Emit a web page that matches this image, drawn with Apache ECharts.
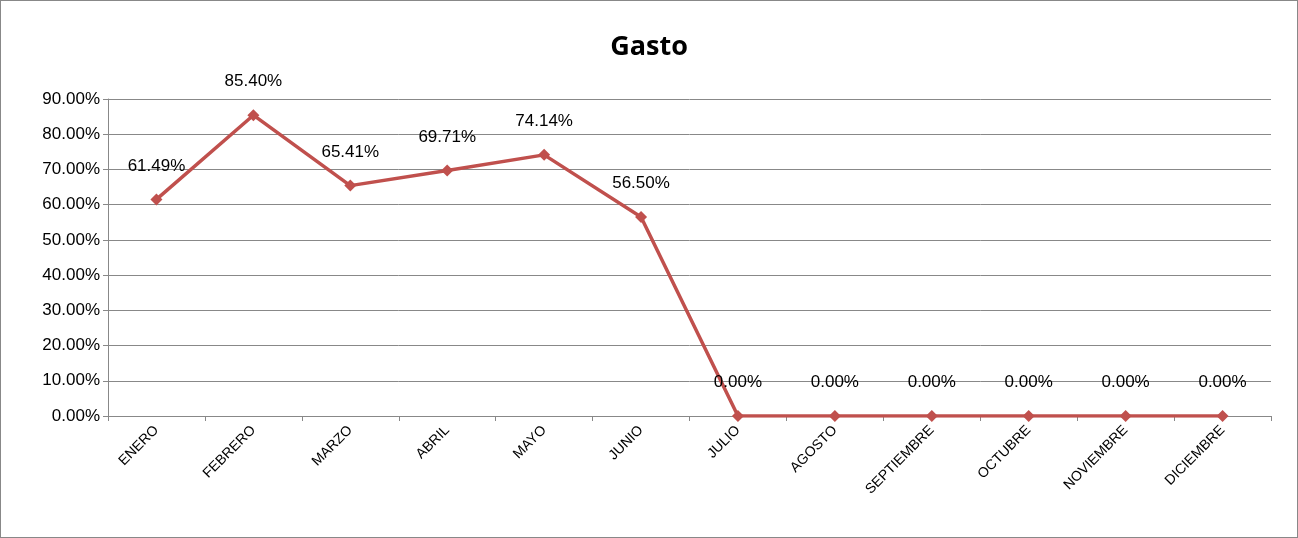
<!DOCTYPE html>
<html>
<head>
<meta charset="UTF-8">
<script src="https://cdn.jsdelivr.net/npm/echarts@6/dist/echarts.min.js"></script>
<style>
html,body{margin:0;padding:0;background:#fff;}
#main{width:1296px;height:536px;border:1px solid #888;}
</style>
</head>
<body>
<div id="main"></div>
<script>
var meses = ['ENERO','FEBRERO','MARZO','ABRIL','MAYO','JUNIO','JULIO','AGOSTO','SEPTIEMBRE','OCTUBRE','NOVIEMBRE','DICIEMBRE'];
var gasto = [61.49, 85.40, 65.41, 69.71, 74.14, 56.50, 0, 0, 0, 0, 0, 0];

var chart = echarts.init(document.getElementById('main'));
chart.setOption({
    title: {
        text: 'Gasto', left: 'center', top: 28,
        textStyle: {fontFamily: 'Open Sans', fontSize: 27, fontWeight: 'bold', color: '#000'}
    },
    grid: {left: 107, right: 26, top: 98, bottom: 121},
    xAxis: {
        type: 'category', data: meses,
        axisLine: {lineStyle: {color: '#888'}},
        axisTick: {show: true, alignWithLabel: false, lineStyle: {color: '#888'}},
        axisLabel: {rotate: 45, color: '#000', fontSize: 14, fontFamily: 'Liberation Sans', interval: 0, margin: 12}
    },
    yAxis: {
        type: 'value', min: 0, max: 90, interval: 10,
        axisLine: {show: true, lineStyle: {color: '#888'}},
        axisTick: {show: true, lineStyle: {color: '#888'}},
        splitLine: {lineStyle: {color: '#888'}},
        axisLabel: {color: '#000', fontSize: 17, fontFamily: 'Liberation Sans',
            formatter: function (v) { return v.toFixed(2) + '%'; }}
    },
    series: [{
        type: 'line', data: gasto,
        symbol: 'diamond', symbolSize: 12,
        lineStyle: {color: '#c0504d', width: 3.5},
        itemStyle: {color: '#c0504d'},
        label: {show: true, position: 'top', distance: 19, color: '#000', fontSize: 17,
            fontFamily: 'Liberation Sans',
            formatter: function (p) { return p.value.toFixed(2) + '%'; }},
        animation: false
    }]
});
</script>
</body>
</html>
